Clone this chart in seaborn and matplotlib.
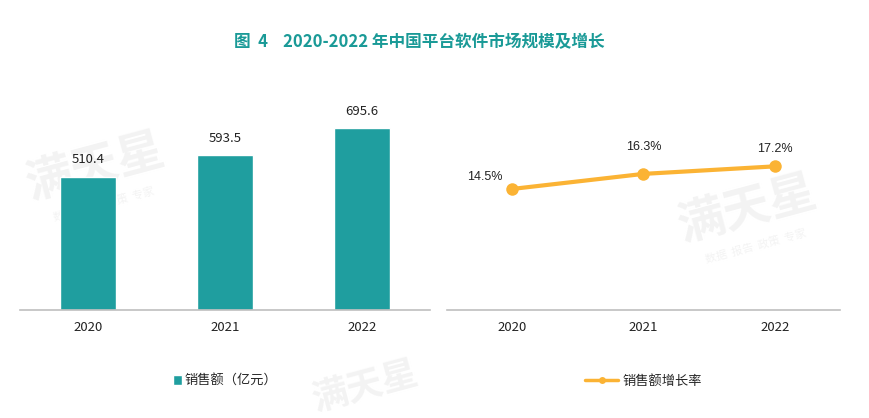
import pandas as pd
import numpy as np
import matplotlib.pyplot as plt
import seaborn as sns

# Chart data
years = ['2020', '2021', '2022']
sales = [510.4, 593.5, 695.6]
growth = [14.5, 16.3, 17.2]

teal = '#1F9E9F'
orange = '#FBB334'

sns.set_theme(style='white')
plt.rcParams['font.family'] = ['Noto Sans CJK SC', 'DejaVu Sans']

df = pd.DataFrame({'year': years, 'sales': sales, 'growth': growth})

fig = plt.figure(figsize=(8.69, 4.18), dpi=100)
ax1 = fig.add_axes([0.023, 0.258, 0.472, 0.5])
ax2 = fig.add_axes([0.514, 0.258, 0.453, 0.5])

# Faint watermarks behind the charts
for (wx, wy, fs) in [(0.11, 0.60, 34), (0.86, 0.50, 34), (0.42, 0.075, 26)]:
    fig.text(wx, wy, '满天星', fontsize=fs, fontweight='bold', color='#F3F3F3',
             rotation=15, ha='center', va='center', zorder=-1)
    if wy > 0.3:
        fig.text(wx + 0.01, wy - 0.09, '数据  报告  政策  专家', fontsize=8, color='#F3F3F3',
                 rotation=15, ha='center', va='center', zorder=-1)

# Left: bar chart
sns.barplot(data=df, x='year', y='sales', color=teal, width=0.41, saturation=1,
            ax=ax1, label='销售额（亿元）')
for i, v in enumerate(sales):
    ax1.text(i, v + 40, f'{v:.1f}', ha='center', va='bottom', fontsize=9.5, color='#222222')
ax1.set_ylim(0, 800)
ax1.set_xlim(-0.5, 2.5)

# Right: line chart
sns.lineplot(data=df, x='year', y='growth', color=orange, linewidth=3, marker='o',
             markersize=9, markeredgewidth=0, ax=ax2, label='销售额增长率')
label_dx = [-0.21, 0, 0]
label_dy = [0.7, 2.5, 1.4]
for i, v in enumerate(growth):
    ax2.text(i + label_dx[i], v + label_dy[i], f'{v:.1f}%', ha='center', va='bottom',
             fontsize=9, color='#222222', family=['Liberation Sans'])
ax2.set_ylim(0, 25)
ax2.set_xlim(-0.5, 2.5)

for ax in (ax1, ax2):
    ax.patch.set_alpha(0)
    for s in ['top', 'right', 'left']:
        ax.spines[s].set_visible(False)
    ax.spines['bottom'].set_color('#BFBFBF')
    ax.spines['bottom'].set_linewidth(1.2)
    ax.set_yticks([])
    ax.set_xlabel('')
    ax.set_ylabel('')
    ax.tick_params(axis='x', length=0, pad=8, labelsize=9.5, labelcolor='#222222')

ax1.legend(loc='center', bbox_to_anchor=(0.5, -0.34), frameon=False, fontsize=9.5,
           handlelength=0.7, handleheight=0.7, handletextpad=0.2)
leg2 = ax2.legend(loc='center', bbox_to_anchor=(0.5, -0.34), frameon=False, fontsize=9.5,
                  handlelength=2.5, handletextpad=0.3)
for h in leg2.legend_handles:
    h.set_markersize(5)
    h.set_linewidth(2.5)

fig.text(0.482, 0.9, '图  4    2020-2022 年中国平台软件市场规模及增长', ha='center', va='center',
         fontsize=12, fontweight='bold', color='#1A9A97')

fig.savefig('out.png', dpi=100)
